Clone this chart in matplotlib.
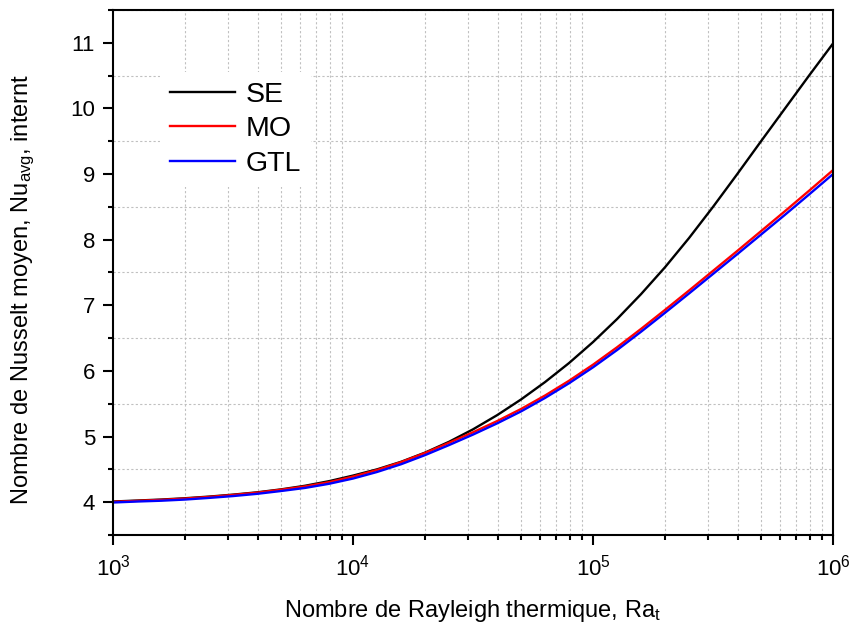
import numpy as np
import matplotlib
matplotlib.use('Agg')
import matplotlib.pyplot as plt
from matplotlib.ticker import LogLocator, MultipleLocator, NullFormatter

plt.rcParams['font.family'] = ['Liberation Sans', 'DejaVu Sans']
plt.rcParams['mathtext.fontset'] = 'custom'
plt.rcParams['mathtext.rm'] = 'Liberation Sans'
plt.rcParams['mathtext.it'] = 'Liberation Sans'
plt.rcParams['mathtext.default'] = 'regular'

# valeurs (exposant de Ra, puis Nu moyen)
log_Ra = [3.0, 3.1, 3.2, 3.3, 3.4, 3.5, 3.6, 3.7, 3.8, 3.9,
          4.0, 4.1, 4.2, 4.3, 4.4, 4.5, 4.6, 4.7, 4.8, 4.9,
          5.0, 5.1, 5.2, 5.3, 5.4, 5.5, 5.6, 5.7, 5.8, 5.9, 6.0]
Nu_SE = [4.01, 4.025, 4.04, 4.06, 4.085, 4.115, 4.15, 4.195, 4.25, 4.32,
         4.405, 4.50, 4.615, 4.755, 4.92, 5.11, 5.325, 5.565, 5.83, 6.12,
         6.44, 6.79, 7.17, 7.58, 8.025, 8.50, 8.995, 9.50, 10.0, 10.5, 10.99]
Nu_MO = [4.005, 4.02, 4.035, 4.055, 4.08, 4.11, 4.145, 4.19, 4.24, 4.305,
         4.39, 4.49, 4.61, 4.75, 4.905, 5.065, 5.235, 5.42, 5.625, 5.85,
         6.095, 6.36, 6.64, 6.93, 7.225, 7.525, 7.825, 8.13, 8.435, 8.745, 9.06]
Nu_GTL = [3.995, 4.01, 4.022, 4.04, 4.065, 4.093, 4.127, 4.17, 4.217, 4.28,
          4.36, 4.46, 4.578, 4.717, 4.87, 5.03, 5.20, 5.383, 5.588, 5.812,
          6.055, 6.318, 6.597, 6.886, 7.18, 7.478, 7.776, 8.078, 8.38, 8.688, 9.0]

Ra = 10 ** np.array(log_Ra)

fig = plt.figure(figsize=(8.49, 6.32), dpi=100)
ax = fig.add_axes([0.1331, 0.1535, 0.8481, 0.8307])

ax.plot(Ra, Nu_SE, color='black', lw=1.7, label='SE')
ax.plot(Ra, Nu_MO, color='#ff0000', lw=1.7, label='MO')
ax.plot(Ra, Nu_GTL, color='#0000ff', lw=1.7, label='GTL')

ax.set_xscale('log')
ax.set_xlim(1e3, 1e6)
ax.set_ylim(3.5, 11.5)
ax.xaxis.set_major_locator(LogLocator(base=10, numticks=10))
ax.xaxis.set_minor_locator(LogLocator(base=10, subs=np.arange(2, 10), numticks=20))
ax.xaxis.set_minor_formatter(NullFormatter())
ax.yaxis.set_major_locator(MultipleLocator(1))
ax.yaxis.set_minor_locator(MultipleLocator(0.5))

# grille pointillée sur les graduations secondaires
ax.grid(which='minor', color='#c0c0c0', linestyle=(0, (2, 2)), lw=0.8)
ax.grid(which='major', visible=False)
ax.set_axisbelow(True)

for s in ax.spines.values():
    s.set_linewidth(1.5)
ax.tick_params(which='major', direction='out', length=7, width=1.5, labelsize=16)
ax.tick_params(which='minor', direction='out', length=3.6, width=1.5)
ax.tick_params(axis='x', which='major', pad=7)
ax.tick_params(axis='y', which='major', pad=6)

ax.set_xlabel('Nombre de Rayleigh thermique, Ra$_{t}$', fontsize=17)
ax.set_ylabel('Nombre de Nusselt moyen, Nu$_{avg}$, internt', fontsize=17)
ax.xaxis.set_label_coords(0.5, -0.12)
ax.yaxis.set_label_coords(-0.105, 0.467)

leg = ax.legend(loc='upper left', bbox_to_anchor=(0.0653, 0.882), borderaxespad=0,
                fontsize=20.5, frameon=True, fancybox=False, framealpha=1,
                facecolor='white', edgecolor='none', handlelength=2.3,
                handletextpad=0.35, labelspacing=0.3, borderpad=0.35)

plt.savefig('out.png', dpi=100)
